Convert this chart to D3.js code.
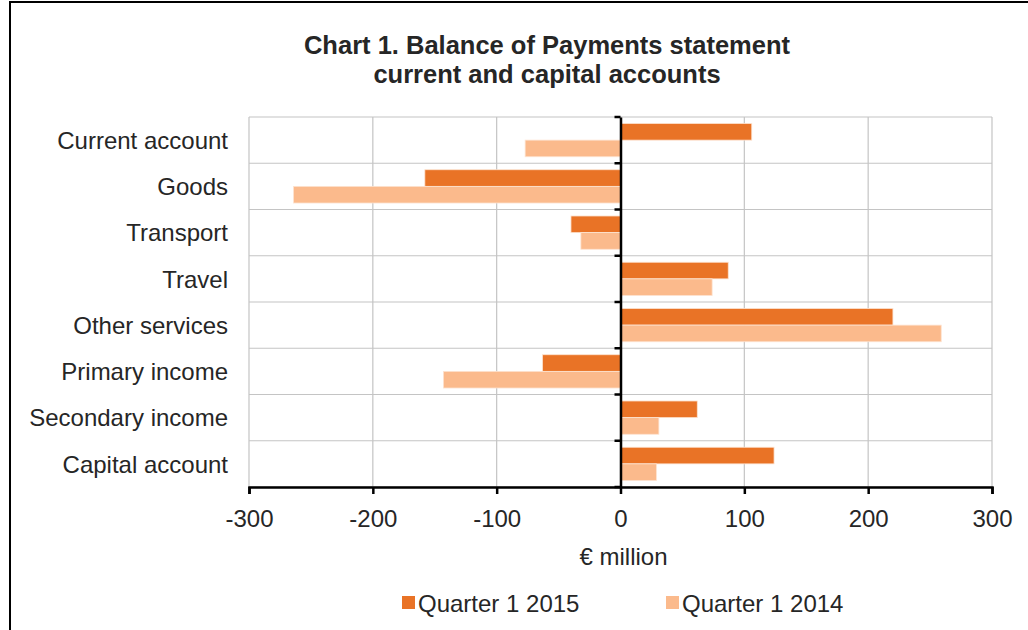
<!DOCTYPE html>
<html><head><meta charset="utf-8">
<script src="https://cdn.jsdelivr.net/npm/d3@7"></script>
<style>
html,body{margin:0;padding:0;background:#fff;}
svg text{font-family:"Liberation Sans",Arial,sans-serif;fill:#262626;}
</style></head>
<body><svg id="chart" width="1028" height="630"></svg>
<script>
const categories = ["Current account","Goods","Transport","Travel","Other services","Primary income","Secondary income","Capital account"];
const seriesNames = ["Quarter 1 2015","Quarter 1 2014"];
const q1_2015 = [106, -158, -40, 87, 220, -63, 62, 124];
const q1_2014 = [-77, -264, -32, 74, 259, -143, 31, 29];
const xTicks = [-300,-200,-100,0,100,200,300];
const colors = ["#E97326","#FBBA8C"];
const titleLines = ["Chart 1. Balance of Payments statement","current and capital accounts"];
const xTitle = "€ million";

const svg = d3.select("#chart");
svg.append("rect").attr("x",10).attr("y",2).attr("width",1030).attr("height",640)
  .attr("fill","none").attr("stroke","#000").attr("stroke-width",2);

const pL=249, pR=992, pT=117, pB=487;
const x = d3.scaleLinear().domain([-300,300]).range([pL,pR]);
const y0 = d3.scaleBand().domain(categories).range([pT,pB]).padding(0);
const y1 = d3.scaleBand().domain(seriesNames).range([0,y0.bandwidth()]).paddingInner(0).paddingOuter(0.39);

svg.append("g").selectAll("text").data(titleLines).join("text")
  .attr("x",547).attr("y",(d,i)=>54+i*29).attr("text-anchor","middle")
  .attr("font-size",25.5).attr("font-weight","bold").text(d=>d);

const grid = svg.append("g");
grid.selectAll("line.v").data(xTicks).join("line").attr("class","v")
  .attr("x1",d=>x(d)).attr("x2",d=>x(d)).attr("y1",pT).attr("y2",pB)
  .attr("stroke","#c4c4c4").attr("stroke-width",1.2);
const bounds = categories.map(c=>y0(c)).concat([pB]);
grid.selectAll("line.h").data(bounds).join("line").attr("class","h")
  .attr("x1",pL).attr("x2",pR).attr("y1",d=>d).attr("y2",d=>d)
  .attr("stroke","#c4c4c4").attr("stroke-width",1.2);

const data = categories.map((c,i)=>({cat:c, vals:[q1_2015[i], q1_2014[i]]}));
const groups = svg.append("g").selectAll("g").data(data).join("g")
  .attr("transform",d=>`translate(0,${y0(d.cat)})`);
groups.selectAll("rect").data(d=>d.vals.map((v,j)=>({v,s:seriesNames[j],j}))).join("rect")
  .attr("x",d=>x(Math.min(0,d.v))).attr("width",d=>Math.abs(x(d.v)-x(0)))
  .attr("y",d=>y1(d.s)).attr("height",y1.bandwidth())
  .attr("fill",d=>colors[d.j]).attr("stroke","#fde3d0").attr("stroke-width",0.8);

const xAxis = d3.axisBottom(x).tickValues(xTicks).tickSize(7).tickPadding(16).tickFormat(d=>String(d));
const gx = svg.append("g").attr("transform",`translate(0,${pB})`).call(xAxis);
gx.select(".domain").attr("stroke","#000").attr("stroke-width",2.5);
gx.selectAll(".tick line").attr("stroke","#000").attr("stroke-width",2.5);
gx.selectAll("text").attr("font-size",24).attr("font-family","Liberation Sans, Arial, sans-serif").attr("fill","#262626");

const yAxis = d3.axisLeft(y0).tickValues([]).tickSize(0);
const gz = svg.append("g").attr("transform",`translate(${x(0)},0)`).call(yAxis);
gz.select(".domain").attr("stroke","#000").attr("stroke-width",2.5);
gz.selectAll("line.bt").data(bounds).join("line").attr("class","bt")
  .attr("x1",-6).attr("x2",0).attr("y1",d=>d).attr("y2",d=>d)
  .attr("stroke","#000").attr("stroke-width",2.5);

svg.append("g").selectAll("text").data(categories).join("text")
  .attr("x",228).attr("y",d=>y0(d)+y0.bandwidth()/2).attr("dy","0.36em")
  .attr("text-anchor","end").attr("font-size",24).text(d=>d);

svg.append("text").attr("x",x(0)+3).attr("y",565).attr("text-anchor","middle")
  .attr("font-size",24).text(xTitle);

const legX = [402,666];
const leg = svg.append("g").selectAll("g").data(seriesNames).join("g")
  .attr("transform",(d,i)=>`translate(${legX[i]},0)`);
leg.append("rect").attr("x",0).attr("y",596).attr("width",13).attr("height",13)
  .attr("fill",(d,i)=>colors[i]);
leg.append("text").attr("x",16).attr("y",612).attr("font-size",24).text(d=>d);
</script></body></html>
